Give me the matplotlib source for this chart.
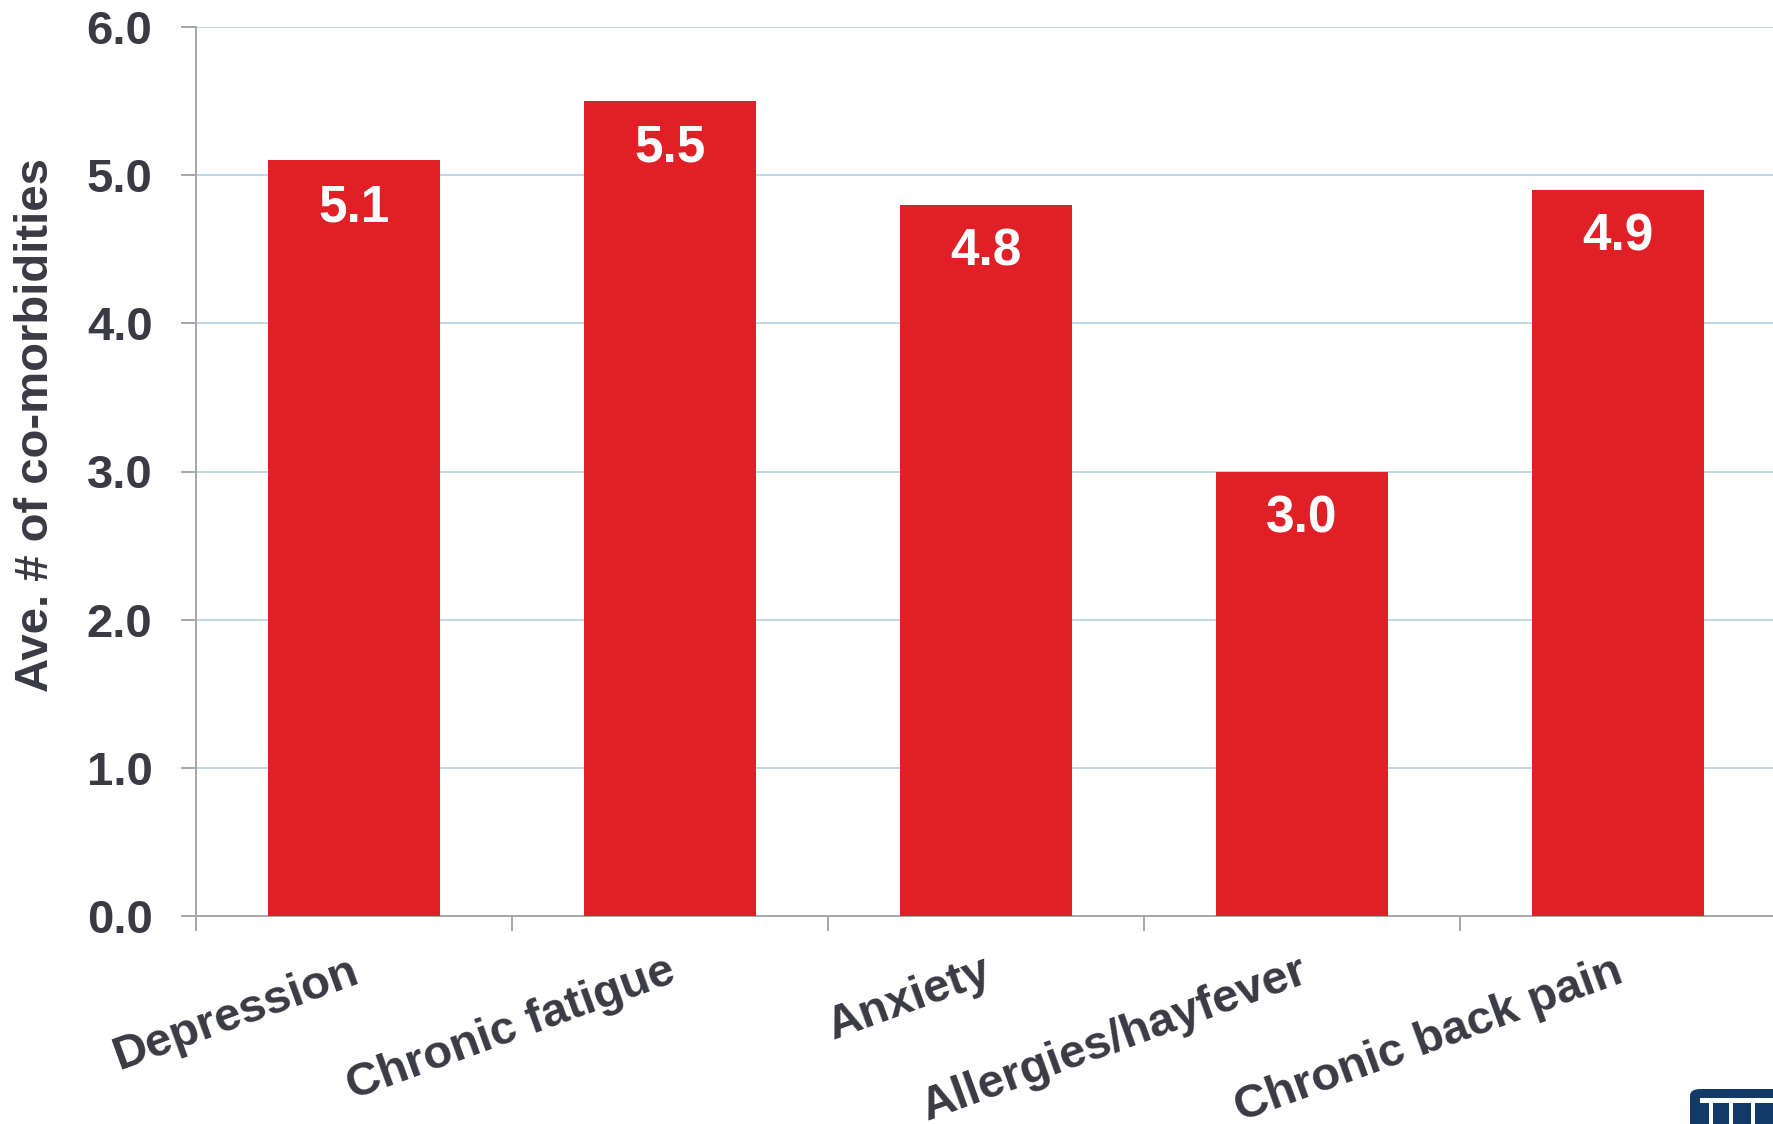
import matplotlib
matplotlib.use("Agg")
import matplotlib.pyplot as plt
import matplotlib.transforms as mtransforms
from matplotlib.patches import FancyBboxPatch, Rectangle
from matplotlib.ticker import FixedLocator

# Data
categories = ["Depression", "Chronic fatigue", "Anxiety", "Allergies/hayfever", "Chronic back pain"]
values = [5.1, 5.5, 4.8, 3.0, 4.9]
y_ticks = [0.0, 1.0, 2.0, 3.0, 4.0, 5.0, 6.0]
y_label = "Ave. # of co-morbidities"

BAR_RED = "#E11F27"
TEXT_DARK = "#3A3A44"
GRID_BLUE = "#A9CDEA"
AXIS_GRAY = "#A6A6A6"

plt.rcParams["font.family"] = ["Liberation Sans", "DejaVu Sans"]
plt.rcParams["font.weight"] = "bold"

W, H = 1773, 1124
fig = plt.figure(figsize=(W / 100, H / 100), dpi=100)
fig.patch.set_facecolor("white")

ax = fig.add_axes([196 / W, (H - 916) / H, 1580 / W, (916 - 27) / H])
ax.set_facecolor("white")

x = list(range(len(categories)))
ax.bar(x, values, width=0.545, color=BAR_RED, zorder=3)

ax.set_xlim(-0.5, len(categories) - 0.5)
ax.set_ylim(0, 6.0)

# Horizontal gridlines
ax.set_yticks(y_ticks)
ax.set_yticklabels([f"{v:.1f}" for v in y_ticks])
ax.yaxis.grid(True, color=GRID_BLUE, linewidth=1.1, zorder=0)
ax.set_axisbelow(True)

# Category labels at centers, tick marks at category boundaries
ax.set_xticks(x)
ax.set_xticklabels(categories)
ax.xaxis.set_minor_locator(FixedLocator([i - 0.5 for i in range(len(categories) + 1)]))
ax.tick_params(axis="x", which="major", length=0, pad=24, labelsize=34, labelcolor=TEXT_DARK)
ax.tick_params(axis="x", which="minor", length=10.8, width=1.4, color=AXIS_GRAY, direction="out")
ax.tick_params(axis="y", which="major", length=10.8, width=1.4, color=AXIS_GRAY, pad=20.5,
               labelsize=34, labelcolor=TEXT_DARK)
shift = mtransforms.ScaledTranslation(-4 / 100, 0, fig.dpi_scale_trans)
for lbl in ax.get_xticklabels():
    lbl.set_rotation(20)
    lbl.set_ha("right")
    lbl.set_rotation_mode("anchor")
    lbl.set_fontweight("bold")
    lbl.set_transform(lbl.get_transform() + shift)
for lbl in ax.get_yticklabels():
    lbl.set_fontweight("bold")

for side in ("top", "right"):
    ax.spines[side].set_visible(False)
for side in ("left", "bottom"):
    ax.spines[side].set_color(AXIS_GRAY)
    ax.spines[side].set_linewidth(1.4)

# Value labels inside the top of each bar
for xi, v in zip(x, values):
    ax.annotate(f"{v:.1f}", xy=(xi, v), xytext=(0, -34), textcoords="offset points",
                ha="center", va="center", color="white", fontsize=37, fontweight="bold",
                zorder=4)

fig.text(36 / W, 1 - 425 / H, y_label, rotation=90, ha="center", va="center",
         fontsize=34, fontweight="bold", color=TEXT_DARK)

# Corner logo
NAVY = "#123A66"
logo = FancyBboxPatch((1690 / W, -20 / H), 120 / W, (1124 - 1089 + 20) / H,
                      boxstyle="round,pad=0,rounding_size=0.006", transform=fig.transFigure,
                      facecolor=NAVY, edgecolor="none", zorder=10)
fig.patches.append(logo)
fig.patches.append(Rectangle((1700 / W, (1124 - 1103) / H), 80 / W, 5 / H,
                             transform=fig.transFigure, facecolor="white", edgecolor="none", zorder=11))
for gx in (1709, 1729, 1751):
    fig.patches.append(Rectangle((gx / W, 0), 4 / W, (1124 - 1100) / H,
                                 transform=fig.transFigure, facecolor="white",
                                 edgecolor="none", zorder=11))

fig.savefig("out.png", dpi=100, facecolor="white")
